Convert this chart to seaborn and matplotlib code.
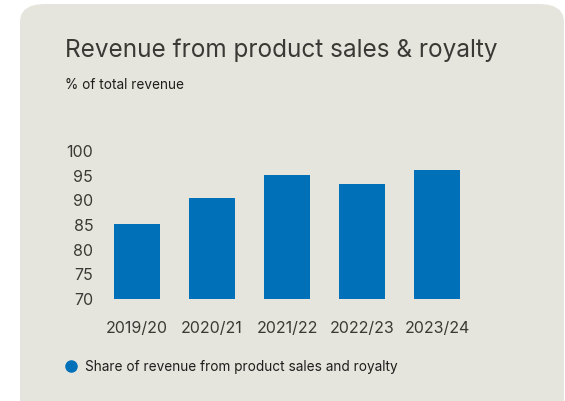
import matplotlib
matplotlib.use("Agg")
import matplotlib.pyplot as plt
from matplotlib.patches import FancyBboxPatch
import seaborn as sns
import pandas as pd

# data
years = ["2019/20", "2020/21", "2021/22", "2022/23", "2023/24"]
share = [85.2, 90.5, 95.2, 93.3, 96.2]

df = pd.DataFrame({"year": years, "share": share})

sns.set_style("white")
plt.rcParams["font.family"] = ["Inter", "DejaVu Sans"]

text_col = "#3b3935"
bar_col = "#0070b8"
panel_col = "#e5e5dd"

fig = plt.figure(figsize=(5.65, 4.01), dpi=100)
fig.patch.set_facecolor("white")

# rounded background panel
panel = FancyBboxPatch((20 / 565, -0.2), 544 / 565, 1.2 - 4 / 401,
                       boxstyle="round,pad=0,rounding_size=0.045",
                       transform=fig.transFigure, facecolor=panel_col,
                       edgecolor="none", zorder=-5)
fig.patches.append(panel)

ax = fig.add_axes([99.5 / 565, 1 - 299 / 401, 375 / 565, 148 / 401])
ax.set_zorder(2)
ax.set_facecolor("none")
sns.barplot(data=df, x="year", y="share", color=bar_col, width=0.61,
            saturation=1, linewidth=0, ax=ax)
ax.set_ylim(70, 100)
ax.set_yticks([70, 75, 80, 85, 90, 95, 100])
ax.set_xlim(-0.5, 4.5)
ax.set_xlabel("")
ax.set_ylabel("")
sns.despine(ax=ax, left=True, bottom=True)
ax.tick_params(axis="both", length=0, labelsize=11.5, colors=text_col)
ax.tick_params(axis="y", pad=4.5)
ax.tick_params(axis="x", pad=16)

fig.text(65 / 565, 1 - 50 / 401, "Revenue from product sales & royalty",
         fontsize=17.5, color=text_col, va="center", ha="left")
fig.text(65 / 565, 1 - 85 / 401, "% of total revenue",
         fontsize=9.8, color="#1f1e1c", va="center", ha="left")

# legend
fig.lines.append(plt.Line2D([71 / 565], [1 - 366 / 401], marker="o",
                            markersize=8, color=bar_col, linestyle="none",
                            transform=fig.transFigure))
fig.text(85 / 565, 1 - 367 / 401,
         "Share of revenue from product sales and royalty",
         fontsize=9.8, color="#1f1e1c", va="center", ha="left")

fig.savefig("out.png", dpi=100)
